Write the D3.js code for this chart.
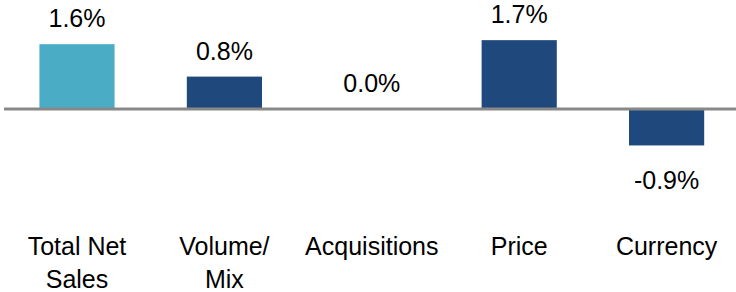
<!DOCTYPE html>
<html>
<head>
<meta charset="utf-8">
<script src="https://cdn.jsdelivr.net/npm/d3@7"></script>
<style>
  html, body { margin: 0; padding: 0; background: #fff; }
  svg { display: block; }
</style>
</head>
<body>
<script>
// chart data
var categories = [["Total Net", "Sales"], ["Volume/", "Mix"], ["Acquisitions"], ["Price"], ["Currency"]];
var values = [1.6, 0.8, 0.0, 1.7, -0.9];
var barColors = ["#4bacc6", "#1f497d", "#1f497d", "#1f497d", "#1f497d"];

const width = 736;
const height = 292;

const data = values.map((v, i) => ({key: i, label: categories[i], value: v, color: barColors[i]}));

const x = d3.scaleBand()
    .domain(data.map(d => d.key))
    .range([3.3, 740.3])
    .paddingInner(0.49)
    .paddingOuter(0.245);

const y = d3.scaleLinear()
    .domain([-2, 2])
    .range([190, 28]);

const svg = d3.create("svg")
    .attr("width", width)
    .attr("height", height)
    .attr("viewBox", [0, 0, width, height]);

document.body.appendChild(svg.node());

// bars
svg.append("g")
    .selectAll()
    .data(data.filter(d => d.value !== 0))
    .join("rect")
    .attr("x", d => x(d.key))
    .attr("width", x.bandwidth())
    .attr("y", d => y(Math.max(0, d.value)))
    .attr("height", d => Math.abs(y(d.value) - y(0)))
    .attr("fill", d => d.color);

// zero line
svg.append("line")
    .attr("x1", 4)
    .attr("x2", width)
    .attr("y1", y(0))
    .attr("y2", y(0))
    .attr("stroke", "#888888")
    .attr("stroke-width", 3);

// value labels
svg.append("g")
    .attr("font-family", "Liberation Sans, Arial, sans-serif")
    .attr("font-size", 25)
    .attr("fill", "#000")
    .attr("text-anchor", "middle")
    .selectAll()
    .data(data)
    .join("text")
    .attr("x", d => x(d.key) + x.bandwidth() / 2)
    .attr("y", d => d.value >= 0 ? y(d.value) - 17 : y(d.value) + 44)
    .text(d => d.value.toFixed(1) + "%");

// category labels
const cat = svg.append("g")
    .attr("font-family", "Liberation Sans, Arial, sans-serif")
    .attr("font-size", 25)
    .attr("fill", "#000")
    .attr("text-anchor", "middle")
    .selectAll()
    .data(data)
    .join("text")
    .attr("x", d => x(d.key) + x.bandwidth() / 2)
    .attr("y", 255);

cat.selectAll("tspan")
    .data(d => d.label)
    .join("tspan")
    .attr("x", function() { return d3.select(this.parentNode).attr("x"); })
    .attr("dy", (d, i) => i === 0 ? 0 : 33)
    .text(d => d);
</script>
</body>
</html>
